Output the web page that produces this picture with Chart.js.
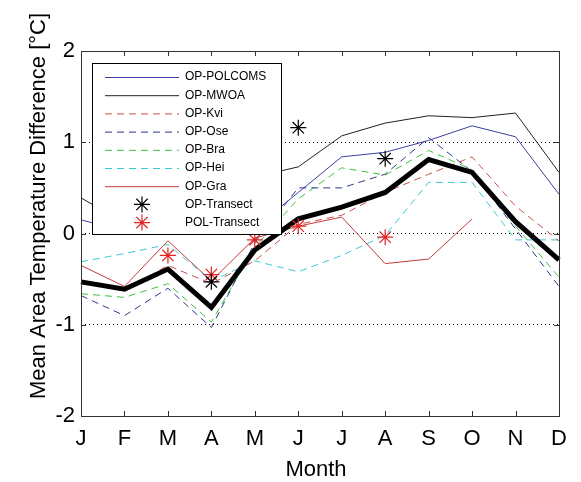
<!DOCTYPE html>
<html>
<head>
<meta charset="utf-8">
<script src="https://cdn.jsdelivr.net/npm/chart.js@4.4.0/dist/chart.umd.min.js"></script>
<style>
  html, body { margin: 0; padding: 0; background: #fff; }
  #wrap { width: 581px; height: 482px; position: relative; }
</style>
</head>
<body>
<div id="wrap"><canvas id="chart" width="581" height="482"></canvas></div>
<script>
// month labels (x axis)
const months = ['J', 'F', 'M', 'A', 'M', 'J', 'J', 'A', 'S', 'O', 'N', 'D'];
const yTicks = [-2, -1, 0, 1, 2];

// series (deg C)
const polcoms  = [0.15, 0.02, 0.20, 0.05, 0.06, 0.45, 0.84, 0.89, 1.02, 1.18, 1.06, 0.43];
const mwoa     = [0.39, 0.12, 0.25, 0.05, 0.62, 0.73, 1.07, 1.21, 1.29, 1.27, 1.32, 0.67];
const kvi      = [-0.55, -0.62, -0.35, -0.55, -0.30, 0.10, 0.20, 0.45, 0.65, 0.84, 0.30, -0.08];
const ose      = [-0.68, -0.90, -0.60, -1.03, -0.10, 0.50, 0.50, 0.65, 1.05, 0.68, 0.05, -0.58];
const bra      = [-0.66, -0.70, -0.55, -0.97, -0.15, 0.38, 0.72, 0.64, 0.91, 0.70, 0.08, -0.48];
const hei      = [-0.31, -0.22, -0.12, -0.52, -0.30, -0.42, -0.24, -0.02, 0.56, 0.56, -0.07, -0.07];
const gra      = [-0.35, -0.58, -0.08, -0.52, -0.05, 0.08, 0.18, -0.33, -0.28, 0.16, null, null];
const meanDiff = [-0.53, -0.61, -0.39, -0.81, -0.18, 0.16, 0.29, 0.45, 0.81, 0.67, 0.13, -0.29];
const opTransect  = [null, null, null, -0.53, null, 1.16, null, 0.82, null, null, null, null];
const polTransect = [null, null, -0.24, -0.45, -0.07, 0.08, null, -0.04, null, null, null, null];

const FONT = "'Liberation Sans', Arial, sans-serif";

function line(label, data, color, dash) {
  return {
    label: label, data: data, borderColor: color, backgroundColor: color,
    borderWidth: 1, borderDash: dash || [], pointRadius: 0, tension: 0,
    fill: false, spanGaps: false, order: 2
  };
}
function stars(label, data, color) {
  return {
    label: label, data: data, borderColor: color, backgroundColor: color,
    showLine: false, pointStyle: 'star', pointRadius: 8, borderWidth: 1.2,
    order: 0
  };
}

const datasets = [
  line('OP-POLCOMS', polcoms, '#3b3fa0'),
  line('OP-MWOA', mwoa, '#222222'),
  line('OP-Kvi', kvi, '#c8504a', [7, 5]),
  line('OP-Ose', ose, '#2e3a8c', [7, 5]),
  line('OP-Bra', bra, '#3cc43c', [7, 5]),
  line('OP-Hei', hei, '#3cc8d0', [7, 5]),
  line('OP-Gra', gra, '#c03c3c'),
  stars('OP-Transect', opTransect, '#000000'),
  stars('POL-Transect', polTransect, '#e02424'),
  { label: 'mean', data: meanDiff, borderColor: '#000', borderWidth: 5,
    pointRadius: 0, tension: 0, fill: false, order: 1, inLegend: false }
];

// legend box drawn inside the axes, on top of the lines
const boxLegend = {
  id: 'boxLegend',
  afterDatasetsDraw(chart) {
    const { ctx, chartArea: a } = chart;
    const x0 = a.left + 11, y0 = a.top + 12, w = 189, h = 171;
    ctx.save();
    ctx.fillStyle = '#fff';
    ctx.fillRect(x0, y0, w, h);
    ctx.strokeStyle = '#000';
    ctx.lineWidth = 1;
    ctx.strokeRect(x0 + 0.5, y0 + 0.5, w, h);
    ctx.font = '12px ' + FONT;
    ctx.textBaseline = 'middle';
    let row = 0;
    chart.data.datasets.forEach(ds => {
      if (ds.inLegend === false) return;
      const cy = y0 + 14 + row * 18.2;
      ctx.strokeStyle = ds.borderColor;
      if (ds.showLine === false) {
        const cx = x0 + 50, r = 8;
        ctx.lineWidth = 1.2;
        ctx.beginPath();
        for (let k = 0; k < 4; k++) {
          const ang = k * Math.PI / 4;
          ctx.moveTo(cx - r * Math.cos(ang), cy - r * Math.sin(ang));
          ctx.lineTo(cx + r * Math.cos(ang), cy + r * Math.sin(ang));
        }
        ctx.stroke();
      } else {
        ctx.lineWidth = 1;
        ctx.setLineDash(ds.borderDash);
        ctx.beginPath();
        ctx.moveTo(x0 + 13, cy + 0.5);
        ctx.lineTo(x0 + 87, cy + 0.5);
        ctx.stroke();
        ctx.setLineDash([]);
      }
      ctx.fillStyle = '#000';
      ctx.fillText(ds.label, x0 + 93, cy);
      row++;
    });
    ctx.restore();
  }
};

// matlab style frame with inward ticks and axis titles
const frame = {
  id: 'frame',
  afterDraw(chart) {
    const { ctx, chartArea: a, scales } = chart;
    const x = scales.x, y = scales.y;
    ctx.save();
    ctx.strokeStyle = '#333';
    ctx.lineWidth = 1;
    ctx.strokeRect(a.left + 0.5, a.top + 0.5, a.right - a.left, a.bottom - a.top);
    ctx.beginPath();
    months.forEach((m, i) => {
      const px = Math.round(x.getPixelForValue(i)) + 0.5;
      ctx.moveTo(px, a.bottom); ctx.lineTo(px, a.bottom - 5);
      ctx.moveTo(px, a.top); ctx.lineTo(px, a.top + 5);
    });
    yTicks.forEach(v => {
      const py = Math.round(y.getPixelForValue(v)) + 0.5;
      ctx.moveTo(a.left, py); ctx.lineTo(a.left + 5, py);
      ctx.moveTo(a.right, py); ctx.lineTo(a.right - 5, py);
    });
    ctx.stroke();

    ctx.fillStyle = '#000';
    ctx.font = '22px ' + FONT;
    ctx.textAlign = 'center';
    ctx.textBaseline = 'alphabetic';
    ctx.fillText('Month', (a.left + a.right) / 2 - 4, 476);
    ctx.translate(45, 206);
    ctx.rotate(-Math.PI / 2);
    ctx.fillText('Mean Area Temperature Difference [°C]', 0, 0);
    ctx.restore();
  }
};

new Chart(document.getElementById('chart'), {
  type: 'line',
  data: { labels: months, datasets: datasets },
  options: {
    responsive: false,
    animation: false,
    layout: { padding: { left: 0, right: 22, top: 51, bottom: 0 } },
    plugins: { legend: { display: false }, tooltip: { enabled: false } },
    scales: {
      x: {
        type: 'category',
        offset: false,
        grid: { display: false, drawTicks: false },
        border: { display: false },
        ticks: { color: '#000', font: { family: FONT, size: 22 }, padding: 10,
                 autoSkip: false, maxRotation: 0 },
        afterFit(s) { s.height = 66; }
      },
      y: {
        min: -2, max: 2,
        afterBuildTicks(s) { s.ticks = yTicks.map(v => ({ value: v })); },
        grid: {
          drawTicks: false,
          color: c => (Math.abs(c.tick.value) < 2 ? '#000' : 'rgba(0,0,0,0)'),
          lineWidth: 1
        },
        border: { display: false, dash: [1, 3] },
        ticks: { color: '#000', font: { family: FONT, size: 22 }, padding: 6 },
        afterFit(s) { s.width = 81; }
      }
    }
  },
  plugins: [boxLegend, frame]
});
</script>
</body>
</html>
